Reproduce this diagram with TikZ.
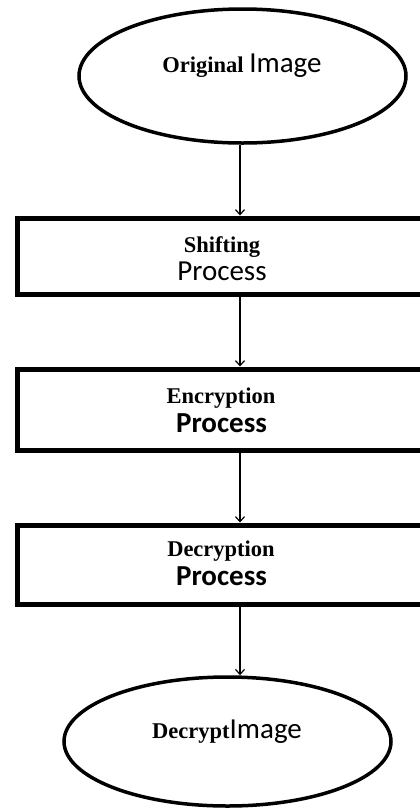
\documentclass[tikz,border=0pt]{standalone}
\usepackage{fontspec}
\setmainfont{Liberation Serif}
\newfontfamily\calfont{Carlito}
\usetikzlibrary{shapes.geometric,arrows.meta}
\tikzset{
  oval/.style={draw, ellipse, line width=3.5pt, inner sep=0pt, minimum width=327pt},
  procbox/.style={draw, rectangle, line width=5pt, inner sep=0pt, minimum width=423pt},
  arr/.style={line width=1.2pt, -{Straight Barb[length=5pt,width=9pt]}},
  serlbl/.style={inner sep=0pt, anchor=base, font=\fontsize{22.5}{24}\selectfont\bfseries},
  sanlbl/.style={inner sep=0pt, anchor=base, font=\calfont\fontsize{29}{31}\selectfont},
  sanbold/.style={inner sep=0pt, anchor=base, font=\calfont\fontsize{29}{31}\selectfont\bfseries},
  mixlbl/.style={inner sep=0pt, anchor=base},
}
\begin{document}
\begin{tikzpicture}[x=1pt,y=-1pt]
  \useasboundingbox (0,0) rectangle (420,812);
  \clip (0,0) rectangle (420,812);
  \fill[white] (0,0) rectangle (420,812);
  \coordinate (ax) at (240,0);

  % shapes
  \node[oval, minimum height=134pt] (e1) at (242.5,76) {};
  \node[procbox, minimum height=76pt] (b1) at (228.5,256) {};
  \node[procbox, minimum height=81pt] (b2) at (228.5,409.5) {};
  \node[procbox, minimum height=79pt] (b3) at (228.5,564.5) {};
  \node[oval, minimum height=129pt] (e2) at (227.5,741.5) {};

  % labels
  \node[mixlbl] (t1) at (242,72) {{\fontsize{22.5}{24}\selectfont\bfseries Original\ }{\calfont\fontsize{29}{31}\selectfont Image}};
  \node[serlbl] (t2a) at (222,252) {Shifting};
  \node[sanlbl] (t2b) at (222,280) {Process};
  \node[serlbl] (t3a) at (221,403) {Encryption};
  \node[sanbold] (t3b) at (221.5,432) {Process};
  \node[serlbl] (t4a) at (221,556) {Decryption};
  \node[sanbold] (t4b) at (221.5,585) {Process};
  \node[mixlbl] (t5) at (227,738) {{\fontsize{22.5}{24}\selectfont\bfseries Decrypt}{\calfont\fontsize{29}{31}\selectfont Image}};

  % connectors
  \draw[arr] (e1.south -| ax) -- (b1.north -| ax);
  \draw[arr] (b1.south -| ax) -- (b2.north -| ax);
  \draw[arr] (b2.south -| ax) -- (b3.north -| ax);
  \draw[arr] (b3.south -| ax) -- (e2.north -| ax);
\end{tikzpicture}
\end{document}
